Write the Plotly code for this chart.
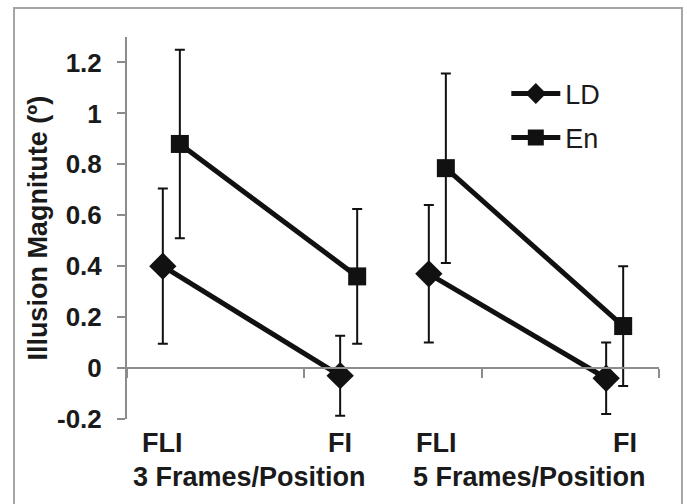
import plotly.graph_objects as go

# ---- data ----
slots = ["FLI|3", "", "FI|3", "FLI|5", "", "FI|5"]   # category slots (two empty spacers)
conditions = ["FLI|3", "FI|3", "FLI|5", "FI|5"]
cond_labels = ["FLI", "FI", "FLI", "FI"]
group_labels = ["3 Frames/Position", "5 Frames/Position"]

ld_vals = [0.40, -0.03, 0.37, -0.04]
ld_err = [0.305, 0.157, 0.27, 0.14]
en_vals = [0.88, 0.36, 0.785, 0.165]
en_err = [0.37, 0.265, 0.372, 0.235]

y_ticks = [-0.2, 0, 0.2, 0.4, 0.6, 0.8, 1.0, 1.2]
y_ticktext = ["-0.2", "0", "0.2", "0.4", "0.6", "0.8", "1", "1.2"]

# ---- derived positions ----
idx = [slots.index(c) + 1 for c in conditions]
OFF = 0.096

def with_gaps(xs, ys):
    # connect FLI->FI within each frame-group only
    gx, gy = [], []
    for i, (x, y) in enumerate(zip(xs, ys)):
        if i == 2:
            gx.append(None); gy.append(None)
        gx.append(x); gy.append(y)
    return gx, gy

def err_with_gaps(errs):
    out = []
    for i, e in enumerate(errs):
        if i == 2:
            out.append(None)
        out.append(e)
    return out

FONT = "Liberation Sans, Arial, sans-serif"
TXT = "#1a1a1a"
AX = "#8c8c8c"

fig = go.Figure()

ld_x, ld_y = with_gaps([i - OFF for i in idx], ld_vals)
en_x, en_y = with_gaps([i + OFF for i in idx], en_vals)

fig.add_trace(go.Scatter(
    x=ld_x, y=ld_y, name="LD", mode="lines+markers", connectgaps=False,
    line=dict(color="#111111", width=5),
    marker=dict(symbol="diamond", size=21, color="#111111"),
    error_y=dict(type="data", array=err_with_gaps(ld_err), visible=True,
                 color="#111111", thickness=2, width=5),
    legendgroup="a",
))
fig.add_trace(go.Scatter(
    x=en_x, y=en_y, name="En", mode="lines+markers", connectgaps=False,
    line=dict(color="#111111", width=5),
    marker=dict(symbol="square", size=18, color="#111111"),
    error_y=dict(type="data", array=err_with_gaps(en_err), visible=True,
                 color="#111111", thickness=2, width=5),
    legendgroup="b",
))

# category labels
for x, lab in zip([0.895, 2.90, 3.996, 6.116], cond_labels):
    fig.add_annotation(x=x, y=-0.0628, xref="x", yref="paper", text="<b>%s</b>" % lab,
                       showarrow=False, xanchor="center", yanchor="middle",
                       font=dict(family=FONT, size=27, color=TXT))
for x, lab in zip([1.887, 5.034], group_labels):
    fig.add_annotation(x=x, y=-0.152, xref="x", yref="paper", text="<b>%s</b>" % lab,
                       showarrow=False, xanchor="center", yanchor="middle",
                       font=dict(family=FONT, size=27, color=TXT))

# y-axis title
fig.add_annotation(x=-0.168, y=0.5, xref="paper", yref="paper",
                   text="<b>Illusion Magnitute (º)</b>", textangle=-90,
                   showarrow=False, xanchor="center", yanchor="middle",
                   font=dict(family=FONT, size=27, color=TXT))

# outer border
fig.add_shape(type="rect", xref="paper", yref="paper", layer="above",
              x0=-0.2124, x1=1.0432, y0=-0.226, y1=1.0759,
              line=dict(color="#a6a6a6", width=2), fillcolor="rgba(0,0,0,0)")

fig.update_layout(
    width=687, height=504,
    margin=dict(l=127, r=28, t=37, b=85),
    paper_bgcolor="white", plot_bgcolor="white",
    font=dict(family=FONT, color=TXT),
    showlegend=True,
    legend=dict(x=0.713, y=0.915, xanchor="left", yanchor="top",
                bgcolor="rgba(0,0,0,0)", font=dict(family=FONT, size=27, color=TXT),
                itemwidth=49, tracegroupgap=6),
    xaxis=dict(range=[0.5, 6.5], showgrid=False, zeroline=False,
               showline=True, linecolor=AX, linewidth=2,
               anchor="free", position=0.2 / 1.5,
               tickmode="array", tickvals=[0.5, 2.5, 4.5, 6.5], ticks="outside",
               ticklen=9, tickwidth=2, tickcolor=AX, showticklabels=False),
    yaxis=dict(range=[-0.2, 1.3], showgrid=False, zeroline=False,
               showline=True, linecolor=AX, linewidth=2,
               tickmode="array", tickvals=y_ticks,
               ticktext=["<b>%s</b>" % t for t in y_ticktext],
               ticks="outside", ticklen=8, tickwidth=2, tickcolor=AX,
               ticklabelstandoff=10,
               tickfont=dict(family=FONT, size=26, color=TXT)),
)

fig.write_html("out.html", config={"displayModeBar": False},
               post_script="document.body.style.margin='0';document.body.style.overflow='hidden';")
